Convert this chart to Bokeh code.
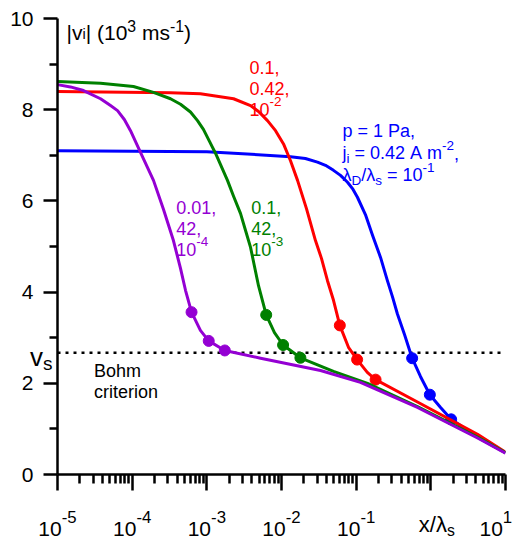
from bokeh.plotting import figure
from bokeh.models import FixedTicker, Span
from bokeh.core.properties import value
from bokeh.embed import file_html
from bokeh.resources import INLINE

FONT = "Liberation Sans"
BLUE, RED, GREEN, PURPLE = "#0000ff", "#ff0000", "#008000", "#9400d3"

# ---------------- data ----------------
blue_x = [1e-5, 1e-3, 0.0132, 0.0209, 0.0303, 0.0388, 0.0497, 0.0617, 0.0766, 0.0893, 0.104,
          0.133, 0.166, 0.212, 0.262, 0.306, 0.357, 0.444, 0.562, 0.726, 0.97, 1.35, 1.87,
          4.22, 10]
blue_y = [7.10, 7.08, 6.97, 6.93, 6.85, 6.78, 6.67, 6.56, 6.41, 6.27, 6.08,
          5.70, 5.24, 4.76, 4.25, 3.90, 3.52, 3.07, 2.55, 2.15, 1.75, 1.47, 1.21,
          0.82, 0.48]
blue_dot_x = [0.562, 0.97, 1.87]
blue_dot_y = [2.55, 1.75, 1.21]

red_x = [1e-5, 3.26e-4, 8.2e-4, 2.28e-3, 3.85e-3, 4.92e-3, 6.49e-3, 8.32e-3, 0.01064, 0.0132,
         0.0164, 0.0216, 0.0285, 0.0343, 0.0413, 0.0497, 0.0604, 0.0789, 0.103, 0.141, 0.182,
         0.662, 4.22, 10]
red_y = [8.40, 8.37, 8.35, 8.24, 8.09, 7.96, 7.76, 7.54, 7.25, 6.88,
         6.45, 5.83, 5.13, 4.74, 4.25, 3.82, 3.27, 2.79, 2.52, 2.24, 2.08,
         1.59, 0.88, 0.49]
red_dot_x = [0.0604, 0.103, 0.182]
red_dot_y = [3.27, 2.52, 2.08]

green_x = [1e-5, 3.77e-5, 1.04e-4, 1.93e-4, 3.26e-4, 4.44e-4, 6.04e-4, 7.5e-4, 9.0e-4, 1.09e-3,
           1.31e-3, 1.89e-3, 2.28e-3, 2.83e-3, 3.30e-3, 3.85e-3, 4.92e-3, 6.24e-3, 8.05e-3,
           0.0105, 0.0179, 0.0497, 0.142, 0.662, 4.22, 10]
green_y = [8.62, 8.58, 8.51, 8.38, 8.24, 8.12, 7.95, 7.76, 7.57, 7.30,
           7.04, 6.45, 6.10, 5.72, 5.35, 4.98, 4.14, 3.50, 3.11,
           2.84, 2.56, 2.26, 2.00, 1.49, 0.82, 0.48]
green_dot_x = [6.24e-3, 0.0105, 0.0179]
green_dot_y = [3.50, 2.84, 2.56]

purple_x = [1e-5, 1.49e-5, 2.23e-5, 3.77e-5, 5.13e-5, 6.37e-5, 7.89e-5, 9.5e-5, 1.33e-4,
            1.93e-4, 2.63e-4, 3.57e-4, 4.44e-4, 5.18e-4, 6.24e-4, 8.2e-4, 1.06e-3, 1.74e-3,
            5.24e-3, 0.0333, 0.114, 0.662, 4.22, 10]
purple_y = [8.55, 8.50, 8.42, 8.24, 8.09, 7.98, 7.78, 7.54, 7.02,
            6.45, 5.81, 5.13, 4.52, 4.04, 3.56, 3.16, 2.93, 2.72,
            2.55, 2.28, 2.02, 1.47, 0.80, 0.47]
purple_dot_x = [6.24e-4, 1.06e-3, 1.74e-3]
purple_dot_y = [3.56, 2.93, 2.72]

vs = 2.67

x_ticks = [1e-5, 1e-4, 1e-3, 1e-2, 1e-1, 1e0, 1e1]
x_tick_exp = ["-5", "-4", "-3", "-2", "-1", None, "1"]
x_minor = [m * 10.0 ** e for e in range(-5, 1) for m in range(2, 10)]
y_ticks = [0, 2, 4, 6, 8, 10]
y_minor = [1, 3, 5, 7, 9]

# ---------------- figure ----------------
p = figure(width=525, height=538, x_axis_type="log", x_range=(1e-5, 10), y_range=(0, 10),
           output_backend="svg", toolbar_location=None,
           min_border_left=57, min_border_right=20, min_border_top=18, min_border_bottom=64)
p.outline_line_color = None
p.grid.visible = False
p.background_fill_color = "white"
p.border_fill_color = "white"

xa = p.xaxis[0]
xa.ticker = FixedTicker(ticks=x_ticks, minor_ticks=x_minor)
xa.major_tick_in = 0
xa.major_tick_out = 16
xa.minor_tick_in = 0
xa.minor_tick_out = 9
xa.major_label_text_color = None
xa.major_label_text_font_size = "1px"

ya = p.yaxis[0]
ya.ticker = FixedTicker(ticks=y_ticks, minor_ticks=y_minor)
ya.major_tick_in = 0
ya.major_tick_out = 14
ya.minor_tick_in = 0
ya.minor_tick_out = 8
ya.major_label_standoff = 10
ya.major_label_text_font = FONT
ya.major_label_text_font_size = "21px"
ya.major_label_text_color = "black"

for ax in (xa, ya):
    ax.axis_line_width = 2.5
    ax.axis_line_color = "black"
    ax.major_tick_line_width = 2.5
    ax.major_tick_line_color = "black"
    ax.minor_tick_line_width = 2.5
    ax.minor_tick_line_color = "black"

p.add_layout(Span(location=vs, dimension="width", line_color="black", line_width=2.5,
                  line_dash="3 5", level="underlay"))

for xs, ys, dx, dy, c in [(blue_x, blue_y, blue_dot_x, blue_dot_y, BLUE),
                          (red_x, red_y, red_dot_x, red_dot_y, RED),
                          (green_x, green_y, green_dot_x, green_dot_y, GREEN),
                          (purple_x, purple_y, purple_dot_x, purple_dot_y, PURPLE)]:
    p.line(xs, ys, line_color=c, line_width=3, line_join="round")
    p.scatter(dx, dy, size=11, fill_color=c, line_color=c)

# ---------------- rich text helper ----------------
NB = "\u00a0"
AW = {' ': .278, NB: .278, ',': .278, '-': .333, '.': .278, '/': .278, '(': .333, ')': .333,
      '|': .26, '=': .584, 'A': .667, 'B': .667, 'D': .722, 'P': .667, 'a': .556, 'c': .5,
      'e': .556, 'h': .556, 'i': .222, 'j': .222, 'm': .833, 'n': .556, 'o': .556, 'p': .556,
      'r': .333, 's': .5, 't': .278, 'v': .5, 'x': .5, 'λ': .5}
for d in "0123456789":
    AW[d] = .556


def rich(x, y, parts, size, color, dx=0.0, dy=0.0, align="left",
         sup=(0.75, 0.42), sub=(0.75, 0.25)):
    """dx, dy in pixels; dy positive = up."""
    specs = []
    for t, k in parts:
        t = t.replace(" ", NB)
        if k == "sup":
            s, r = size * sup[0], size * sup[1]
        elif k == "sub":
            s, r = size * sub[0], -size * sub[1]
        else:
            s, r = size, 0.0
        specs.append((t, s, r, sum(AW.get(ch, .556) for ch in t) * s))
    total = sum(sp[3] for sp in specs)
    cur = dx - {"left": 0.0, "center": total / 2, "right": total}[align]
    for t, s, r, w in specs:
        p.text(x=[x], y=[y], text=[t], x_offset=cur, y_offset=-(dy + r),
               text_font=value(FONT), text_font_size=value(f"{s:.1f}px"), text_color=color,
               text_align="left", text_baseline="alphabetic", level="overlay")
        cur += w


# title of y axis
rich(1e-5, 9.69, [("|v", "n"), ("i", "sub"), ("| (10", "n"), ("3", "sup"), (" ms", "n"),
                  ("-1", "sup"), (")", "n")], 21, "black", dx=9,
     sup=(0.75, 0.33), sub=(0.7, 0.08))

# v_s label at the Bohm line
rich(1e-5, vs, [("v", "n"), ("s", "sub")], 26, "black", dx=-27.5, dy=-4.7, sub=(0.73, 0.23))

# x tick labels
for t, e in zip(x_ticks, x_tick_exp):
    if e is None:
        continue
    if t == x_ticks[-1]:
        rich(t, 0, [("10", "n"), (e, "sup")], 21, "black", dx=-26, dy=-54, sup=(0.8, 0.55))
    else:
        rich(t, 0, [("10", "n"), (e, "sup")], 21, "black", dy=-54, align="center",
             sup=(0.8, 0.55))

# x axis name
rich(1.0, 0, [("x/λ", "n"), ("s", "sub")], 22, "black", dx=-12, dy=-50, sub=(0.72, 0.28))

# curve annotations
LS = 21
for i, line in enumerate([[("0.1,", "n")], [("0.42,", "n")], [("10", "n"), ("-2", "sup")]]):
    rich(3.72e-3, 8.93, line, 18, RED, dy=-LS * i)
for i, line in enumerate([[("0.1,", "n")], [("42,", "n")], [("10", "n"), ("-3", "sup")]]):
    rich(3.93e-3, 5.86, line, 18, GREEN, dy=-LS * i)
for i, line in enumerate([[("0.01,", "n")], [("42,", "n")], [("10", "n"), ("-4", "sup")]]):
    rich(3.89e-4, 5.86, line, 18, PURPLE, dy=-LS * i)

blue_lines = [
    [("p = 1 Pa,", "n")],
    [("j", "n"), ("i", "sub"), (" = 0.42 A m", "n"), ("-2", "sup"), (",", "n")],
    [("λ", "n"), ("D", "sub"), ("/λ", "n"), ("s", "sub"), (" = 10", "n"), ("-1", "sup")],
]
for i, line in enumerate(blue_lines):
    rich(0.0656, 7.53, line, 18, BLUE, dy=-22 * i, sub=(0.75, 0.3))

for i, line in enumerate([[("Bohm", "n")], [("criterion", "n")]]):
    rich(3.08e-5, 2.265, line, 18, "black", dy=-21 * i)

open("out.html", "w").write(file_html(p, INLINE))
